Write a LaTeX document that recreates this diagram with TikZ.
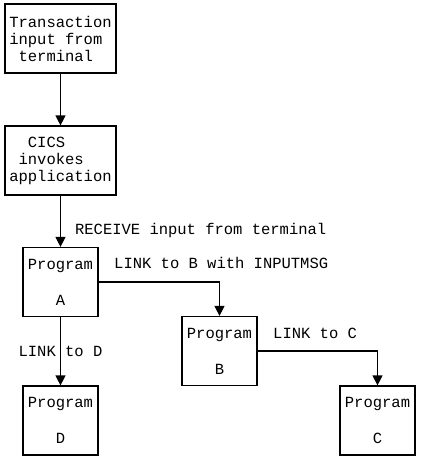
\documentclass[tikz,border=0pt]{standalone}
\usepackage{fontspec}
\setmonofont{Liberation Mono}
\usetikzlibrary{arrows.meta}

\begin{document}
\begin{tikzpicture}[x=1pt, y=-1pt,
  line/.style={>={Triangle[width=10pt,length=10pt]}, line width=1.2pt},
  box/.style={draw, line width=1.2pt, minimum width=111pt, minimum height=69pt,
    inner sep=0pt, align=left, font=\ttfamily\fontsize{15.5}{17}\selectfont},
  prog/.style={draw, line width=1.2pt, minimum width=75pt, minimum height=69pt,
    inner sep=0pt, align=center, font=\ttfamily\fontsize{15.5}{36}\selectfont},
  lbl/.style={inner sep=0pt, font=\ttfamily\fontsize{15.5}{17}\selectfont}]
\useasboundingbox (0,0) rectangle (420,460);

\node (trans) at (60.5,38.5) [box] {Transaction\\input from\\\phantom{x}terminal};
\node (cics) at (60.5,160.5) [box] {\phantom{xx}CICS\\\phantom{x}invokes\\application};

\node (a) at (60.5,282) [prog] {Program\\A};
\node (b) at (219.5,351) [prog] {Program\\B};
\node (d) at (60.5,420.5) [prog] {Program\\D};
\node (c) at (377.5,420.5) [prog] {Program\\C};

\draw[->, line] (trans) -- (cics);
\draw[->, line] (cics) -- node [lbl, anchor=base west, pos=.75, xshift=14pt] {RECEIVE input from terminal} (a);
\draw[->, line] (a.east) -| node [lbl, anchor=base west, pos=0, xshift=15pt, yshift=14pt] {LINK to B with INPUTMSG} (b.north);
\draw[->, line] (a) -- node [lbl] {LINK to D} (d);
\draw[->, line] (b.east) -| node [lbl, anchor=base west, pos=0, xshift=15pt, yshift=13pt] {LINK to C} (c.north);

\end{tikzpicture}
\end{document}
